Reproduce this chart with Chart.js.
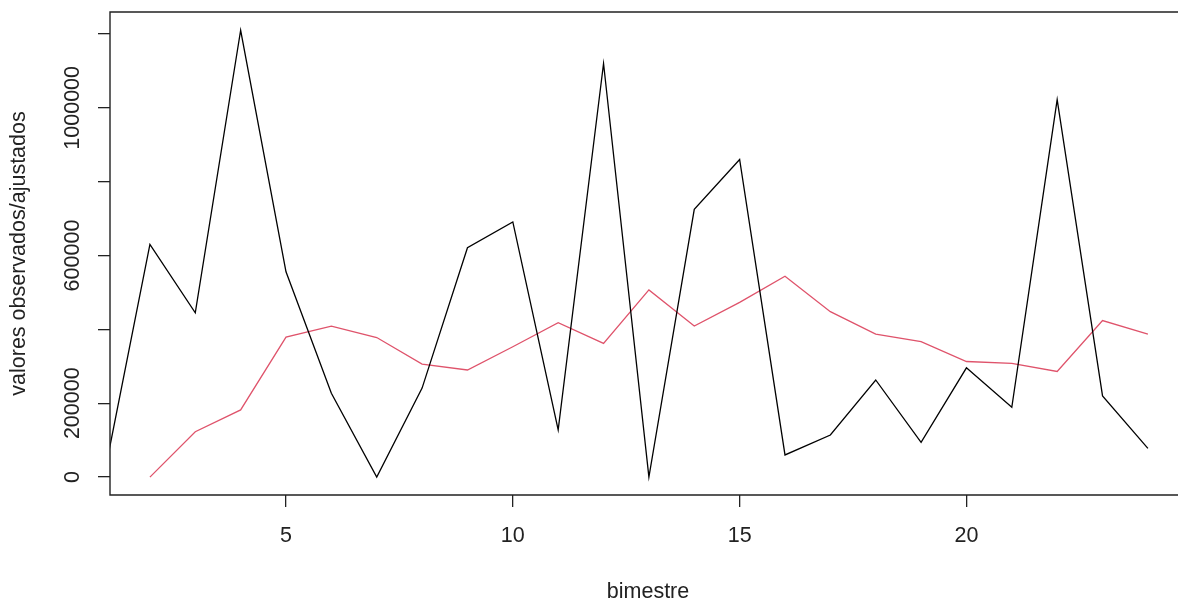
<!DOCTYPE html>
<html>
<head>
<meta charset="utf-8">
<script src="https://cdn.jsdelivr.net/npm/chart.js@4/dist/chart.umd.min.js"></script>
<style>
  html, body { margin: 0; padding: 0; background: #fff; overflow: hidden; }
  canvas { display: block; }
</style>
</head>
<body>
<canvas id="plot" width="1186" height="599"></canvas>
<script>
// bimestre 1..24
const bimestre = [1, 2, 3, 4, 5, 6, 7, 8, 9, 10, 11, 12, 13, 14, 15, 16, 17, 18, 19, 20, 21, 22, 23, 24];
// observed series (black)
const observados = [10000, 630000, 445000, 1210000, 556000, 227000, 0, 241000, 621000, 691000, 128000, 1120000,
                    0, 725000, 860000, 60000, 114000, 263000, 94000, 296000, 189000, 1022000, 220000, 78000];
// fitted series (red), no value for the first bimestre
const ajustados = [null, 0, 123000, 182000, 379000, 409000, 378000, 306000, 290000, 353000, 418000, 362000,
                   507000, 409000, 473000, 544000, 448000, 387000, 367000, 313000, 308000, 286000, 424000, 387000];

const xTicks = [5, 10, 15, 20];
const yTicks = [0, 200000, 400000, 600000, 800000, 1000000, 1200000];
const yLabels = [0, 200000, 600000, 1000000];

const FONT = "'Liberation Sans', Arial, sans-serif";

function toPoints(vals) {
    return vals.map((v, i) => ({ x: bimestre[i], y: v }));
}

// R style box: top, left, bottom (right side falls off the picture)
const frame = {
    id: 'frame',
    afterDraw(chart) {
        const a = chart.chartArea;
        const ctx = chart.ctx;
        ctx.save();
        ctx.strokeStyle = '#222';
        ctx.lineWidth = 1.4;
        ctx.beginPath();
        ctx.moveTo(a.right + 2, a.top);
        ctx.lineTo(a.left, a.top);
        ctx.lineTo(a.left, a.bottom);
        ctx.lineTo(a.right + 2, a.bottom);
        ctx.stroke();
        ctx.restore();
    }
};

new Chart(document.getElementById('plot').getContext('2d'), {
    type: 'line',
    data: {
        datasets: [{
            label: 'observados',
            data: toPoints(observados),
            borderColor: '#000000',
            borderWidth: 1.3,
            pointRadius: 0,
            tension: 0
        }, {
            label: 'ajustados',
            data: toPoints(ajustados),
            borderColor: '#DF536B',
            borderWidth: 1.3,
            pointRadius: 0,
            tension: 0
        }]
    },
    options: {
        responsive: false,
        animation: false,
        layout: { padding: { top: 12, right: 0, left: 0, bottom: 0 } },
        plugins: {
            legend: { display: false },
            tooltip: { enabled: false }
        },
        scales: {
            x: {
                type: 'linear',
                min: 1.12,
                max: 24.84,
                afterBuildTicks: s => { s.ticks = xTicks.map(v => ({ value: v })); },
                afterFit: s => { s.height = 104; },
                grid: { drawOnChartArea: false, drawTicks: true, tickLength: 12, color: '#222', lineWidth: 1.3 },
                border: { display: false },
                ticks: {
                    color: '#222',
                    font: { family: FONT, size: 21.5 },
                    padding: 16,
                    maxRotation: 0,
                    autoSkip: false
                },
                title: {
                    display: true,
                    text: 'bimestre',
                    color: '#222',
                    font: { family: FONT, size: 21.5 },
                    padding: { top: 0, bottom: -6 }
                }
            },
            y: {
                type: 'linear',
                min: -48440,
                max: 1259440,
                afterBuildTicks: s => { s.ticks = yTicks.map(v => ({ value: v })); },
                afterFit: s => { s.width = 110; },
                grid: { drawOnChartArea: false, drawTicks: true, tickLength: 12, color: '#222', lineWidth: 1.3 },
                border: { display: false },
                ticks: {
                    color: '#222',
                    font: { family: FONT, size: 21.5 },
                    minRotation: 90,
                    maxRotation: 90,
                    crossAlign: 'center',
                    padding: -17,
                    autoSkip: false,
                    callback: v => yLabels.includes(v) ? String(v) : ''
                },
                title: {
                    display: true,
                    text: 'valores observados/ajustados',
                    color: '#222',
                    font: { family: FONT, size: 21.5 },
                    padding: { top: 6, bottom: 0 }
                }
            }
        }
    },
    plugins: [frame]
});
</script>
</body>
</html>
